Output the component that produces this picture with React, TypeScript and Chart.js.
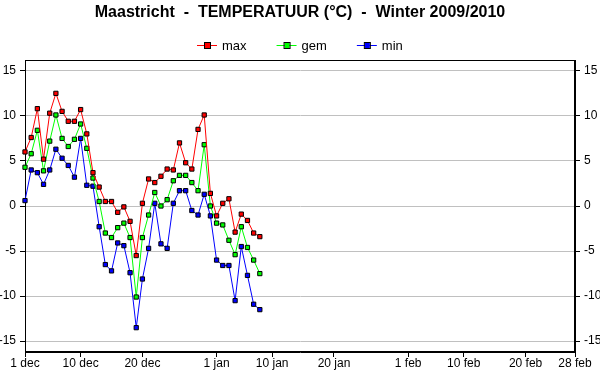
import React, { useEffect, useRef } from "react";
import { Chart, registerables } from "chart.js";

Chart.register(...registerables);

const chartTitle = "Maastricht  -  TEMPERATUUR (°C)  -  Winter 2009/2010";

const dates = [
  "2009-12-01", "2009-12-02", "2009-12-03", "2009-12-04", "2009-12-05", "2009-12-06", "2009-12-07",
  "2009-12-08", "2009-12-09", "2009-12-10", "2009-12-11", "2009-12-12", "2009-12-13", "2009-12-14",
  "2009-12-15", "2009-12-16", "2009-12-17", "2009-12-18", "2009-12-19", "2009-12-20", "2009-12-21",
  "2009-12-22", "2009-12-23", "2009-12-24", "2009-12-25", "2009-12-26", "2009-12-27", "2009-12-28",
  "2009-12-29", "2009-12-30", "2009-12-31", "2010-01-01", "2010-01-02", "2010-01-03", "2010-01-04",
  "2010-01-05", "2010-01-06", "2010-01-07", "2010-01-08",
];

const maxTemp = [
  6.0, 7.6, 10.8, 5.2, 10.3, 12.5, 10.5, 9.4, 9.4, 10.7, 8.0, 3.7, 2.1, 0.5, 0.5, -0.7, -0.1, -1.7, -5.5,
  0.3, 3.0, 2.6, 3.3, 4.1, 4.0, 7.0, 4.8, 4.1, 8.5, 10.1, 1.4, -1.1, 0.3, 0.8, -2.9, -0.9, -1.6, -3.0, -3.4,
];

const gemTemp = [
  4.3, 5.8, 8.4, 3.9, 7.2, 10.1, 7.5, 6.6, 7.4, 9.1, 6.4, 3.1, 0.5, -3.0, -3.5, -2.4, -1.9, -3.5, -10.1,
  -3.5, -1.0, 1.5, 0.0, 0.7, 2.8, 3.4, 3.4, 2.6, 1.7, 6.8, 0.0, -1.9, -2.1, -3.8, -5.4, -2.3, -4.6, -6.0, -7.5,
];

const minTemp = [
  0.6, 4.0, 3.7, 2.4, 4.0, 6.3, 5.3, 4.5, 3.2, 7.5, 2.3, 2.2, -2.3, -6.5, -7.2, -4.1, -4.4, -7.4, -13.5,
  -8.1, -4.7, 0.3, -4.2, -4.7, 0.3, 1.7, 1.7, -0.5, -1.0, 1.3, -1.1, -6.0, -6.6, -6.6, -10.5, -4.5, -7.7, -10.9, -11.5,
];

const seriesNames = ["max", "gem", "min"];
const seriesColors = ["#ff0000", "#00ff00", "#0000ff"];

const tickDates = [
  "2009-12-01", "2009-12-10", "2009-12-20", "2010-01-01", "2010-01-10",
  "2010-01-20", "2010-02-01", "2010-02-10", "2010-02-20", "2010-02-28",
];
const tickLabels = ["1 dec", "10 dec", "20 dec", "1 jan", "10 jan", "20 jan", "1 feb", "10 feb", "20 feb", "28 feb"];

const yTicks = [-15, -10, -5, 0, 5, 10, 15];
const yMin = -16.2;
const yMax = 16.2;
const xStart = "2009-12-01";
const xEnd = "2010-02-28";

const FONT = "'Liberation Sans', Arial, sans-serif";

function dayOf(s: string): number {
  const [y, m, d] = s.split("-").map(Number);
  const [y0, m0, d0] = xStart.split("-").map(Number);
  return Math.round((Date.UTC(y, m - 1, d) - Date.UTC(y0, m0 - 1, d0)) / 86400000);
}

const frameAndLegend = {
  id: "frameAndLegend",
  beforeDatasetsDraw(chart: any) {
    const { ctx, chartArea } = chart;
    ctx.save();
    ctx.strokeStyle = "#000";
    ctx.lineWidth = 1;
    ctx.strokeRect(
      Math.round(chartArea.left) + 0.5,
      Math.round(chartArea.top) + 0.5,
      Math.round(chartArea.right - chartArea.left) - 1,
      Math.round(chartArea.bottom - chartArea.top) - 1
    );
    ctx.restore();
  },
  afterDraw(chart: any) {
    const ctx = chart.ctx;
    ctx.save();
    ctx.font = `13px ${FONT}`;
    ctx.textBaseline = "middle";
    const markW = 20;
    const gapText = 5;
    const gapItem = 30;
    const widths = seriesNames.map((n) => ctx.measureText(n).width);
    const total =
      widths.reduce((a, w) => a + markW + gapText + w, 0) + gapItem * (seriesNames.length - 1);
    let x = Math.round(chart.width / 2 - total / 2);
    const y = 45;
    seriesNames.forEach((name, i) => {
      ctx.strokeStyle = seriesColors[i];
      ctx.lineWidth = 1;
      ctx.beginPath();
      ctx.moveTo(x, y + 0.5);
      ctx.lineTo(x + markW, y + 0.5);
      ctx.stroke();
      ctx.fillStyle = seriesColors[i];
      ctx.fillRect(x + markW / 2 - 2, y - 2, 5, 5);
      ctx.strokeStyle = "#000";
      ctx.strokeRect(x + markW / 2 - 2.5, y - 2.5, 6, 6);
      ctx.fillStyle = "#000";
      ctx.fillText(name, x + markW + gapText, y + 1);
      x += markW + gapText + widths[i] + gapItem;
    });
    ctx.restore();
  },
};

export default function App() {
  const ref = useRef<HTMLCanvasElement | null>(null);

  useEffect(() => {
    if (!ref.current) return;
    const series = [maxTemp, gemTemp, minTemp];
    const datasets = series.map((vals, i) => ({
      label: seriesNames[i],
      data: vals.map((v, j) => ({ x: dayOf(dates[j]), y: v })),
      borderColor: seriesColors[i],
      backgroundColor: seriesColors[i],
      borderWidth: 1,
      tension: 0,
      pointStyle: "rect",
      pointRadius: 3,
      pointBorderWidth: 1,
      pointBorderColor: "#000",
      pointBackgroundColor: seriesColors[i],
      pointHoverRadius: 3,
      clip: false,
    }));

    const tickFont = { family: FONT, size: 12 };
    const yAxisCommon = {
      type: "linear" as const,
      min: yMin,
      max: yMax,
      afterBuildTicks: (s: any) => {
        s.ticks = yTicks.map((v) => ({ value: v }));
      },
      ticks: {
        color: "#000",
        font: tickFont,
        padding: 4,
        callback: (v: any) => String(v),
      },
      border: { color: "#000", width: 1 },
    };

    const chart = new Chart(ref.current, {
      type: "line",
      data: { datasets: datasets as any },
      options: {
        responsive: false,
        animation: false,
        devicePixelRatio: 1,
        layout: { padding: 0 },
        events: [],
        plugins: {
          legend: { display: false },
          tooltip: { enabled: false },
          title: {
            display: true,
            text: chartTitle,
            color: "#000",
            font: { family: FONT, size: 16, weight: "bold" },
            padding: { top: 3, bottom: 37.8 },
          },
        },
        scales: {
          x: {
            type: "linear",
            min: 0,
            max: dayOf(xEnd),
            afterBuildTicks: (s: any) => {
              s.ticks = tickDates.map((d) => ({ value: dayOf(d) }));
            },
            afterFit: (s: any) => {
              s.height = 38;
            },
            ticks: {
              autoSkip: false,
              maxRotation: 0,
              color: "#000",
              font: tickFont,
              padding: -1,
              callback: (v: any) => {
                const idx = tickDates.findIndex((d) => dayOf(d) === v);
                return idx >= 0 ? tickLabels[idx] : "";
              },
            },
            grid: { drawOnChartArea: false, drawTicks: true, tickLength: 5, tickColor: "#000" },
            border: { color: "#000", width: 1 },
          },
          y: {
            ...yAxisCommon,
            position: "left",
            afterFit: (s: any) => {
              s.width = 25;
            },
            grid: { color: "#c0c0c0", tickColor: "#000", tickLength: 5, drawTicks: true },
          },
          y2: {
            ...yAxisCommon,
            position: "right",
            afterFit: (s: any) => {
              s.width = 25;
            },
            grid: { drawOnChartArea: false, tickColor: "#000", tickLength: 5, drawTicks: true },
          },
        },
      } as any,
      plugins: [frameAndLegend],
    });
    return () => chart.destroy();
  }, []);

  return (
    <div style={{ position: "absolute", left: 0, top: 0, width: 600, height: 390, background: "#fff" }}>
      <canvas ref={ref} width={600} height={390} style={{ display: "block" }} />
    </div>
  );
}
